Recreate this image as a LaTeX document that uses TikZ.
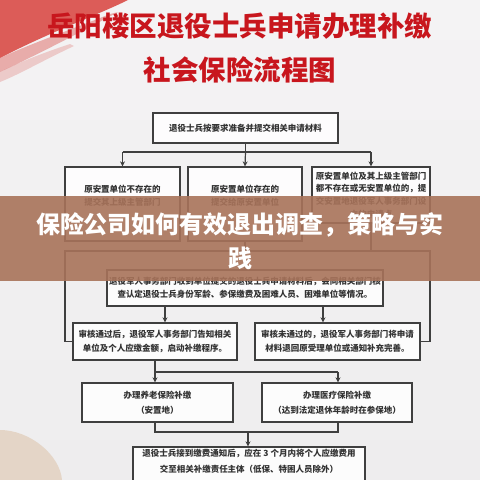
\documentclass[tikz,border=0pt]{standalone}
\usepackage{fontspec}
\setmainfont{Noto Sans CJK SC}
\usetikzlibrary{arrows.meta}
\definecolor{titlered}{HTML}{C8161D}
\definecolor{bgcol}{HTML}{EEEDEE}
\definecolor{bgtop}{HTML}{F4F3F4}
\definecolor{linegray}{HTML}{3F3F3F}
\definecolor{textgray}{HTML}{333333}
\definecolor{bannerc}{HTML}{A8735A}
\definecolor{brushred}{HTML}{D42A24}
\definecolor{sandc}{HTML}{D8B898}
\tikzset{
  boxnode/.style={draw=linegray, line width=1.3pt, fill=white, fill opacity=0.85, text opacity=1,
    inner sep=0pt, align=center, text=textgray,
    font=\fontsize{8.5}{12.7}\selectfont\bfseries},
  txtnode/.style={inner sep=0pt, align=center, text=textgray,
    font=\fontsize{8.5}{12.7}\selectfont\bfseries},
  conn/.style={draw=linegray, line width=1.2pt},
  arr/.style={conn, -{Stealth[length=5pt,width=5pt]}},
}
\begin{document}
\begin{tikzpicture}[x=1pt,y=-1pt]
\useasboundingbox (0,0) rectangle (480,480);
\clip (0,0) rectangle (480,480);
\shade[top color=bgtop, bottom color=bgcol] (0,0) rectangle (480,480);
% red brush stroke
\fill[brushred, opacity=0.75] (0,0) -- (128,0) .. controls (100,14) and (50,32) .. (0,58) -- cycle;
\fill[brushred, opacity=0.35] (0,58) .. controls (30,44) and (70,30) .. (110,14) -- (118,12) .. controls (70,38) and (30,58) .. (0,72) -- cycle;
\fill[brushred, opacity=0.2] (0,72) .. controls (20,62) and (40,54) .. (70,44) -- (74,46) .. controls (40,62) and (20,74) .. (0,82) -- cycle;
% sand blur bottom-left
\fill[sandc, opacity=0.45] (0,430) .. controls (30,430) and (60,455) .. (62,480) -- (0,480) -- cycle;

% title
\node[font=\fontsize{27.5}{30}\selectfont\bfseries, text=titlered, inner sep=0pt] (title1) at (240,26) {岳阳楼区退役士兵申请办理补缴};
\node[font=\fontsize{27.5}{30}\selectfont\bfseries, text=titlered, inner sep=0pt] (title2) at (240,70) {社会保险流程图};

% boxes
\node[boxnode, minimum width=185pt, minimum height=30pt] (b0) at (245.5,128) {退役士兵按要求准备并提交相关申请材料};
\node[boxnode, minimum width=115pt, minimum height=74pt] (b1) at (122.5,204) {};
\node[txtnode] (b1t) at (122.5,195.5) {原安置单位不存在的\\提交其上级主管部门};
\node[boxnode, minimum width=114pt, minimum height=74pt] (b2) at (245,204) {};
\node[txtnode] (b2t) at (245,195.5) {原安置单位存在的\\提交给原安置单位};
\node[boxnode, minimum width=118pt, minimum height=56pt] (b3) at (371,195) {原安置单位及其上级主管部门\\都不存在或无安置单位的，提\\交安置地退役军人事务部门设\\立的申请点};

\node[boxnode, minimum width=276pt, minimum height=36pt] (r3) at (245,288) {退役军人事务部门收到单位提交的退役士兵申请材料后，会同相关部门核\\查认定退役士兵身份军龄、参保缴费及困难人员、困难单位等情况。};

\node[boxnode, minimum width=164pt, minimum height=37pt, font=\fontsize{8.5}{14}\selectfont\bfseries] (r4l) at (155,341.5) {审核通过后，退役军人事务部门告知相关\\单位及个人应缴金额，启动补缴程序。};
\node[boxnode, minimum width=165pt, minimum height=37pt, font=\fontsize{8.5}{14}\selectfont\bfseries] (r4r) at (337.5,341.5) {审核未通过的，退役军人事务部门将申请\\材料退回原受理单位或通知补充完善。};

\node[boxnode, minimum width=151pt, minimum height=39pt, font=\fontsize{8.5}{15}\selectfont\bfseries] (r5l) at (157.5,402.5) {办理养老保险补缴\\（安置地）};
\node[boxnode, minimum width=150pt, minimum height=39pt, font=\fontsize{8.5}{15}\selectfont\bfseries] (r5r) at (337,402.5) {办理医疗保险补缴\\（达到法定退休年龄时在参保地）};

\node[boxnode, minimum width=232pt, minimum height=50pt, font=\fontsize{8.5}{16}\selectfont\bfseries] (r6) at (249,472) {退役士兵接到缴费通知后，应在 3 个月内将个人应缴费用\\交至相关补缴责任主体（低保、特困人员除外）\\[6pt]\ };

% connectors top
\coordinate (j0) at (245.5,152);
\coordinate (j0L) at (122.5,152);
\coordinate (j0R) at (371,152);
\draw[conn] (b0.south) -- (j0);
\draw[conn] (j0L) -- (j0R);
\draw[arr] (j0L) -- (b1.north);
\draw[arr] (j0) -- (b2.north);
\draw[arr] (j0R) -- (b3.north);

% outer loop
\coordinate (L1) at (65,251);
\coordinate (R1) at (430,251);
\draw[conn] (r4l.west) -- (r4l.west -| L1) -- (L1) -- (R1) -- (R1 |- r4r.east) -- (r4r.east);
\draw[conn] (b2.south) -- (b2.south |- L1);
\draw[conn] (b3.south) -- (b3.south |- L1);
\draw[arr] (r3.north |- L1) -- (r3.north);

% row3 -> row4
\draw[arr] ([xshift=-80pt]r3.south) -- ([xshift=-80pt]r3.south |- r4l.north);
\draw[arr] ([xshift=78pt]r3.south) -- ([xshift=78pt]r3.south |- r4r.north);

% row4 -> row5
\coordinate (j4) at (155,372);
\coordinate (j4R) at (338,372);
\draw[conn] (r4l.south) -- (j4) -- (j4R);
\draw[arr] (j4) -- (j4 |- r5l.north);
\draw[arr] (j4R) -- (j4R |- r5r.north);

% row5 -> row6
\coordinate (j5L) at (155,432);
\coordinate (j5R) at (338,432);
\coordinate (j5) at (248,432);
\draw[conn] (j5L |- r5l.south) -- (j5L) -- (j5R) -- (j5R |- r5r.south);
\draw[arr] (j5) -- (j5 |- r6.north);

% banner
\fill[bannerc, opacity=0.9] (0,196) rectangle (480,281);
\node[font=\fontsize{24}{28}\selectfont\bfseries, text=white, inner sep=0pt] (ban1) at (240,225) {保险公司如何有效退出调查，策略与实};
\node[font=\fontsize{24}{28}\selectfont\bfseries, text=white, inner sep=0pt] (ban2) at (240,258) {践};
\end{tikzpicture}
\end{document}
